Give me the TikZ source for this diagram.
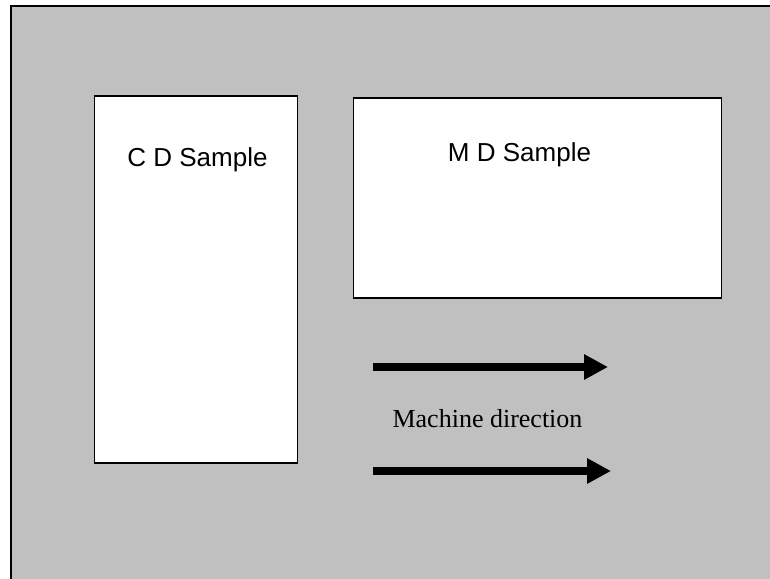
\documentclass[tikz,border=0pt]{standalone}
\usepackage{fontspec}
\setmainfont{Liberation Serif}
\setsansfont{Liberation Sans}
\usetikzlibrary{arrows.meta}
\definecolor{bggray}{HTML}{C0C0C0}
\tikzset{
  samplebox/.style={draw=black, line width=1.6pt, fill=white, inner sep=0pt, anchor=north west},
  sanslabel/.style={font=\sffamily\fontsize{26}{30}\selectfont, inner sep=0pt},
  seriflabel/.style={font=\rmfamily\fontsize{26}{30}\selectfont, inner sep=0pt},
  mdarrow/.style={line width=8pt, -{Triangle[length=24pt,width=24pt]}}
}
\begin{document}
\begin{tikzpicture}[x=1pt,y=-1pt]
\useasboundingbox (0,0) rectangle (770,578);
\fill[bggray] (11,6) rectangle (775,585);
\draw[line width=2pt] (11,590) -- (11,6) -- (775,6);
\node[samplebox, minimum width=203pt, minimum height=367pt] (cd) at (93.5,95) {};
\node[samplebox, minimum width=368pt, minimum height=200pt] (md) at (352.5,97) {};
\node[sanslabel] (cdt) at (197.5,160) {C D Sample};
\node[sanslabel] (mdt) at (519.5,155) {M D Sample};
\node[seriflabel] (mach) at (487.5,419) {Machine direction};
\coordinate (a1s) at (373,367);
\coordinate (a1e) at (608,367);
\coordinate (a2s) at (373,471);
\coordinate (a2e) at (611,471);
\draw[mdarrow] (a1s) -- (a1e);
\draw[mdarrow] (a2s) -- (a2e);
\end{tikzpicture}
\end{document}
